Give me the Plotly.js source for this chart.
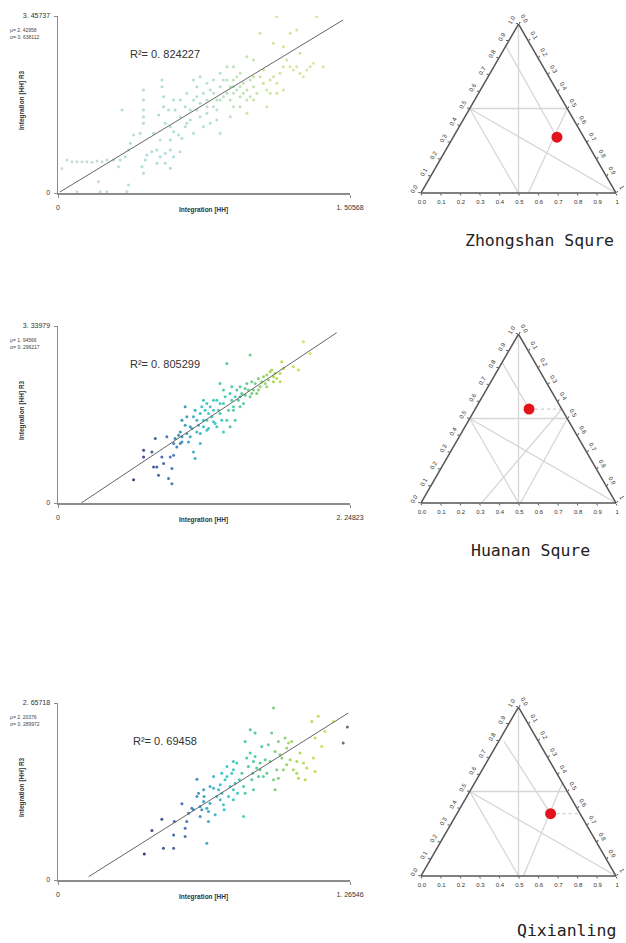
<!DOCTYPE html>
<html><head><meta charset="utf-8">
<script src="https://cdn.plot.ly/plotly-3.0.1.min.js"></script>
<style>html,body{margin:0;padding:0;background:#fff}#chart{width:626px;height:943px}</style>
</head><body><div id="chart"></div>
<script>
// ---------- Scatter data (Integration [HH] vs Integration [HH] R3) ----------
const x1 = [0.02,0.046,0.072,0.098,0.124,0.149,0.175,0.201,0.227,0.252,
0.287,0.312,0.209,0.098,0.218,0.252,0.364,0.355,0.321,0.347,
0.364,0.373,0.39,0.424,0.441,0.433,0.45,0.458,0.484,0.51,
0.527,0.553,0.579,0.596,0.63,0.579,0.553,0.441,0.441,0.441,
0.441,0.441,0.536,0.536,0.544,0.544,0.519,0.553,0.579,0.596,
0.622,0.639,0.656,0.664,0.63,0.604,0.596,0.63,0.656,0.682,
0.699,0.716,0.733,0.75,0.768,0.785,0.733,0.768,0.802,0.819,
0.785,0.819,0.836,0.853,0.871,0.888,0.905,0.922,0.939,0.956,
0.974,0.991,1.008,1.025,0.888,0.905,0.922,0.939,0.974,1.008,
1.042,1.059,1.077,1.094,1.111,1.128,1.145,1.162,1.18,1.197,
1.214,1.231,1.248,1.265,1.283,1.3,1.317,1.368,1.111,1.162,
1.197,1.231,1.248,1.042,1.128,1.334,0.974,1.008,0.905,0.871,
0.836,0.802,0.768,0.716,0.664,0.733,0.699,1.077,1.128,1.162,
0.939,0.974,0.888,0.836,0.75,0.699,0.527,0.493,0.579,0.51,
0.33,0.57,0.836,0.853,0.939,0.956,0.991,0.871,0.802,0.819,
0.905,1.008,1.059,1.094,0.905,0.768,0.716,0.682];
const y1 = [0.48,0.645,0.61,0.61,0.61,0.61,0.6,0.625,0.61,0.645,
0.645,0.514,0.221,0.026,0.026,0.026,0.156,0.026,0.645,0.71,
0.84,0.97,1.133,1.165,0.384,0.514,0.645,0.742,0.807,0.84,
0.71,0.775,0.84,0.71,0.807,0.482,0.579,1.361,1.621,1.817,
2.012,1.491,2.207,2.077,1.882,1.686,1.524,1.361,1.296,1.198,
1.133,1.068,1.296,1.361,1.491,1.621,1.817,1.817,1.686,1.621,
1.817,1.882,1.751,1.947,1.817,2.012,1.491,1.556,1.686,1.621,
1.361,1.426,1.817,1.882,1.947,2.077,2.207,2.272,2.337,2.142,
2.012,2.207,2.077,1.947,1.817,1.947,2.012,1.882,1.817,1.817,
2.272,2.142,2.012,2.207,2.272,2.142,2.337,2.468,2.598,2.468,
2.403,2.468,2.337,2.272,2.403,2.468,2.533,2.468,2.923,2.858,
3.119,3.184,2.728,3.119,3.45,3.444,2.663,2.598,2.468,2.468,
2.337,2.207,2.142,2.077,1.947,2.272,2.207,1.686,1.947,2.012,
1.686,1.556,1.491,1.165,1.296,1.165,1.035,1.165,1.035,0.579,
1.621,1.621,2.077,2.207,2.077,1.947,1.882,2.207,1.947,1.817,
1.686,2.272,2.403,1.947,2.077,1.686,1.621,1.426];

const x2 = [0.582,0.659,0.659,0.723,0.749,0.761,0.774,0.8,0.838,0.851,
0.864,0.877,0.877,0.89,0.902,0.928,0.941,0.954,0.979,0.979,
0.992,1.005,1.018,1.031,1.043,1.056,1.069,1.056,1.082,1.095,
1.107,1.12,1.133,1.146,1.159,1.159,1.172,1.184,1.197,1.21,
1.223,1.236,1.248,1.248,1.261,1.274,1.287,1.3,1.3,1.313,
1.325,1.338,1.351,1.364,1.364,1.377,1.389,1.402,1.415,1.428,
1.441,1.454,1.466,1.479,1.479,1.492,1.505,1.518,1.53,1.543,
1.556,1.569,1.582,1.595,1.607,1.62,1.633,1.646,1.659,1.671,
1.684,1.71,1.723,1.735,1.812,1.851,1.889,1.941,1.043,1.095,
0.954,0.915,0.813,0.954,1.12,1.197,1.223,1.351,1.402,1.338,
1.146,1.274,1.095,1.018,0.992,1.146,1.069,1.325,1.248,1.402,
1.441,1.492,1.543,1.607,1.659,1.71,1.274,1.197,1.12,0.941,
0.89,0.736];
const y2 = [0.441,0.996,0.87,0.964,1.216,0.681,0.523,0.87,1.248,0.46,
0.87,0.365,0.649,0.901,1.216,1.279,1.342,1.153,1.468,1.815,
1.311,1.153,1.248,1.405,1.626,1.752,1.563,0.838,1.468,1.689,
1.815,1.563,1.752,1.878,1.405,1.689,1.815,1.626,1.752,1.5,
1.437,1.752,1.689,2.256,1.563,1.878,2.004,2.634,1.563,1.752,
2.067,1.941,1.815,2.004,1.563,2.13,1.941,2.193,2.067,1.878,
2.161,2.256,2.13,2.792,2.004,2.287,2.13,2.256,2.067,2.35,
2.193,2.287,2.382,2.256,2.413,2.319,2.477,2.508,2.382,2.445,
2.35,2.287,2.666,2.54,2.571,2.508,3.044,2.823,0.964,1.122,
1.563,1.059,0.744,1.248,1.437,1.941,1.941,1.752,2.004,2.193,
1.374,1.342,1.311,1.437,1.626,1.563,1.342,1.437,1.878,1.815,
2.035,2.067,2.13,2.193,2.287,2.445,2.13,1.531,1.941,1.122,
1.122,0.681];

const x3 = [0.374,0.407,0.45,0.457,0.501,0.501,0.504,0.537,0.551,0.551,
0.558,0.58,0.587,0.602,0.609,0.616,0.623,0.631,0.633,0.645,
0.645,0.652,0.652,0.659,0.659,0.674,0.681,0.688,0.696,0.703,
0.71,0.71,0.717,0.72,0.724,0.732,0.739,0.746,0.753,0.76,
0.76,0.768,0.775,0.778,0.786,0.797,0.804,0.804,0.811,0.818,
0.825,0.833,0.84,0.844,0.847,0.854,0.854,0.861,0.869,0.876,
0.883,0.89,0.905,0.912,0.919,0.926,0.934,0.941,0.941,0.948,
0.955,0.962,0.97,0.977,0.984,0.991,0.999,1.006,1.013,1.02,
1.035,1.042,1.049,1.064,1.078,1.1,1.107,1.114,1.114,1.128,
1.143,1.157,1.193,0.934,0.833,0.76,0.732,0.674,
0.703,0.631,0.602,0.566,0.616,0.76,0.811,0.847,0.876,0.898,
0.955,0.991,1.035,1.071];
const y3 = [0.391,0.742,0.912,0.476,0.476,0.677,0.877,1.143,0.652,0.777,
0.877,1.078,1.053,1.514,1.304,1.103,1.053,1.178,1.253,1.078,
0.551,1.028,0.877,1.153,1.404,1.379,0.978,1.253,1.354,1.429,
1.304,1.604,1.128,1.053,1.504,1.554,1.253,1.404,1.604,1.354,
1.654,1.454,1.755,1.304,1.504,1.604,0.953,1.404,2.081,1.83,
1.705,1.905,1.504,1.604,1.78,2.206,1.855,1.68,1.554,1.755,
2.005,1.554,1.604,2.03,1.78,2.206,1.504,1.354,1.93,1.654,
2.081,1.88,1.83,1.654,2.131,1.98,2.056,1.805,2.081,1.654,
1.78,1.529,1.905,1.755,1.68,2.381,1.83,2.131,1.629,2.457,
2.005,2.231,2.381,2.582,2.256,1.78,1.705,1.554,
1.203,1.354,1.253,1.003,0.953,1.203,1.304,1.354,1.654,1.805,
1.529,1.73,1.604,1.504];
// two dark outlier points at the right end of panel 3
const x3dark = [1.236, 1.254];
const y3dark = [2.056, 2.296];

// fitted regression lines (end points)
const fit1X = [0.01, 1.47], fit1Y = [0.02, 3.38];
const fit2X = [0.179, 2.146], fit2Y = [0.0, 3.214];
const fit3X = [0.133, 1.258], fit3Y = [0.05, 2.507];

// axis maxima and labels
const xMax = [1.50568, 2.24823, 1.26546];
const yMax = [3.45737, 3.33979, 2.65718];
const xMaxText = ['1. 50568', '2. 24823', '1. 26546'];
const yMaxText = ['3. 45737', '3. 33979', '2. 65718'];
const r2Text = ['R²= 0. 824227', 'R²= 0. 805299', 'R²= 0. 69458'];
const muText = ['μ= 2. 42958', 'μ= 1. 94566', 'μ= 2. 20376'];
const sdText = ['σ= 0. 638112', 'σ= 0. 296217', 'σ= 0. 289972'];
const placeNames = ['Zhongshan Squre', 'Huanan Squre', 'Qixianling'];

// ---------- Ternary data ----------
const dotA = [0.33, 0.556, 0.369];
const dotB = [0.138, 0.168, 0.151];
const dotC = [0.532, 0.276, 0.48];

// common guide lines (segments separated by null)
const guideA = [1, 0, null, 0.5, 0.5, null, 0.5, 0, null, 0.5, 0];
const guideB = [0, 0.5, null, 0.5, 0, null, 0.5, 0.5, null, 0.5, 0];
const guideC = [0, 0.5, null, 0, 0.5, null, 0, 0.5, null, 0, 1];
// per-panel guide lines
const extraA = [[0.87, 0.33, null, 0.5, 0],
                [0.832, 0.556, null, 0.5, 0, null, 0.556, 0],
                [0.796, 0.369, null, 0.55, 0]];
const extraB = [[0.13, 0.138, null, 0, 0.45],
                [0.168, 0.168, null, 0, 0.49, null, 0, 0.689],
                [0.176, 0.151, null, 0, 0.475]];
const extraC = [[0, 0.532, null, 0.5, 0.55],
                [0, 0.276, null, 0.5, 0.51, null, 0.444, 0.311],
                [0.028, 0.48, null, 0.45, 0.525]];
const dashA = [[], [0.556, 0.556], [0.369, 0.369]];
const dashB = [[], [0.168, 0], [0.151, 0]];
const dashC = [[], [0.276, 0.444], [0.48, 0.631]];

const ternVals = [0,0.1,0.2,0.3,0.4,0.5,0.6,0.7,0.8,0.9,1];
const ternTextA = ['0.0','0.1','0.2','0.3','0.4','0.5','0.6','0.7','0.8','0.9','1.0'];
const ternTextB = ['1','0.9','0.8','0.7','0.6','0.5','0.4','0.3','0.2','0.1','0.0'];
const ternTextC = ['0.0','0.1','0.2','0.3','0.4','0.5','0.6','0.7','0.8','0.9','1'];

// ---------- Build ----------
const W = 626, H = 943;
const px = v => v / W, py = v => 1 - v / H;

const colorscale = [[0,'#1c1c5c'],[0.2,'#2b5aa8'],[0.42,'#1fbfc4'],[0.62,'#3cc48c'],[0.8,'#a6d236'],[1,'#e2d84a']];
const paleScale = [[0,'#c4cccc'],[0.35,'#8fd3d3'],[0.6,'#9fd8b0'],[0.8,'#c2dc78'],[1,'#d8dc80']];

const xs = [x1, x2, x3], ys = [y1, y2, y3];
const fitX = [fit1X, fit2X, fit3X], fitY = [fit1Y, fit2Y, fit3Y];
const cRange = [[0.0, 1.4], [0.55, 1.95], [0.37, 1.2]];
const scales = [paleScale, colorscale, colorscale];
const opac = [0.75, 0.85, 0.85];

const traces = [];
for (let i = 0; i < 3; i++) {
  const xa = i === 0 ? 'x' : 'x' + (i + 1);
  const ya = i === 0 ? 'y' : 'y' + (i + 1);
  traces.push({type:'scatter', mode:'markers', x: xs[i], y: ys[i], xaxis: xa, yaxis: ya,
    marker:{size:3, color: xs[i], colorscale: scales[i], cmin: cRange[i][0], cmax: cRange[i][1], opacity: opac[i]},
    hoverinfo:'skip'});
  if (i === 2) traces.push({type:'scatter', mode:'markers', x: x3dark, y: y3dark, xaxis: xa, yaxis: ya,
    marker:{size:3, color:'#6a4a5a', opacity:0.85}, hoverinfo:'skip'});
  traces.push({type:'scatter', mode:'lines', x: fitX[i], y: fitY[i], xaxis: xa, yaxis: ya,
    line:{color:'#666', width:1}, hoverinfo:'skip'});
  const sub = i === 0 ? 'ternary' : 'ternary' + (i + 1);
  traces.push({type:'scatterternary', subplot: sub, mode:'lines', a: guideA, b: guideB, c: guideC,
    line:{color:'#d6d6d6', width:1.3}, connectgaps:false, hoverinfo:'skip'});
  traces.push({type:'scatterternary', subplot: sub, mode:'lines', a: extraA[i], b: extraB[i], c: extraC[i],
    line:{color:'#d6d6d6', width:1.3}, connectgaps:false, hoverinfo:'skip'});
  if (dashA[i].length) traces.push({type:'scatterternary', subplot: sub, mode:'lines', a: dashA[i], b: dashB[i], c: dashC[i],
    line:{color:'#cfcfcf', width:1.2, dash:'dot'}, hoverinfo:'skip'});
  traces.push({type:'scatterternary', subplot: sub, mode:'markers', a:[dotA[i]], b:[dotB[i]], c:[dotC[i]],
    marker:{size:11, color:'#e3121b'}, hoverinfo:'skip'});
}

function cartAxis(domain, max, text, anchor, isY) {
  return {domain: domain, range: [0, max], tickvals: [0, max], ticktext: ['0', text], anchor: anchor,
    showline: true, linecolor: '#8c8c8c', linewidth: 1.5, ticks: 'outside', ticklen: 3, tickcolor: '#8c8c8c',
    showgrid: false, zeroline: false, fixedrange: true, ticklabelstandoff: isY ? 2 : 4,
    tickfont: {size: 7, color: '#333', family: 'Liberation Sans, Arial, sans-serif'}};
}
function ternAxis(text, angle) {
  return {tickvals: ternVals, ticktext: text, tickangle: angle, showgrid: false, showline: true,
    linecolor: '#555', linewidth: 1.5, ticks: 'outside', ticklen: 2, tickcolor: '#555',
    tickfont: {size: 6, color: '#333', family: 'Liberation Sans, Arial, sans-serif'}, title: {text: ''}, min: 0};
}
function ternary(yd) {
  return {domain: {x: [px(419), px(618)], y: yd}, sum: 1, bgcolor: '#fff',
    aaxis: ternAxis(ternTextA, -60), baxis: ternAxis(ternTextB, 0), caxis: ternAxis(ternTextC, 60)};
}

const rows = [{top: 16, bot: 193, label: 241, nameX: 463}, {top: 326, bot: 503, label: 550, nameX: 469}, {top: 703, bot: 880, label: 930, nameX: 515}];
const ternY = [[py(193), py(24)], [py(503), py(334)], [py(876), py(707)]];

const layout = {width: W, height: H, margin: {l: 0, r: 0, t: 0, b: 0}, paper_bgcolor: '#fff', plot_bgcolor: '#fff',
  showlegend: false, font: {family: 'Liberation Sans, Arial, sans-serif'}, annotations: []};

function note(x, y, text, font, extra) {
  return Object.assign({xref:'paper', yref:'paper', x: px(x), y: py(y), xanchor:'center', yanchor:'middle',
    text: text, showarrow:false, font: font}, extra || {});
}

for (let i = 0; i < 3; i++) {
  const r = rows[i];
  const sfx = i === 0 ? '' : String(i + 1);
  layout['xaxis' + sfx] = cartAxis([px(58), px(350)], xMax[i], xMaxText[i], 'y' + sfx, false);
  layout['yaxis' + sfx] = cartAxis([py(r.bot), py(r.top)], yMax[i], yMaxText[i], 'x' + sfx, true);
  layout['ternary' + sfx] = ternary(ternY[i]);
  const ann = layout.annotations;
  ann.push(note(165, r.top + 38, r2Text[i], {size:11, color:'#333', family:'Liberation Sans, Arial, sans-serif'}));
  ann.push(note(8, r.top + 14, muText[i], {size:5, color:'#444'}, {xanchor:'left'}));
  ann.push(note(8, r.top + 21, sdText[i], {size:5, color:'#444'}, {xanchor:'left'}));
  ann.push(note(203, r.bot + 17, '<b>Integration [HH]</b>', {size:6.5, color:'#333'}));
  ann.push(note(22, r.top + 84, '<b>Integration [HH] R3</b>', {size:6.5, color:'#333'}, {textangle: -90}));
  ann.push(note(r.nameX, r.label, placeNames[i], {size:16.5, color:'#222', family:'DejaVu Sans Mono, monospace'}, {xanchor:'left'}));
}

Plotly.newPlot('chart', traces, layout, {displayModeBar: false, staticPlot: true});
</script></body></html>
